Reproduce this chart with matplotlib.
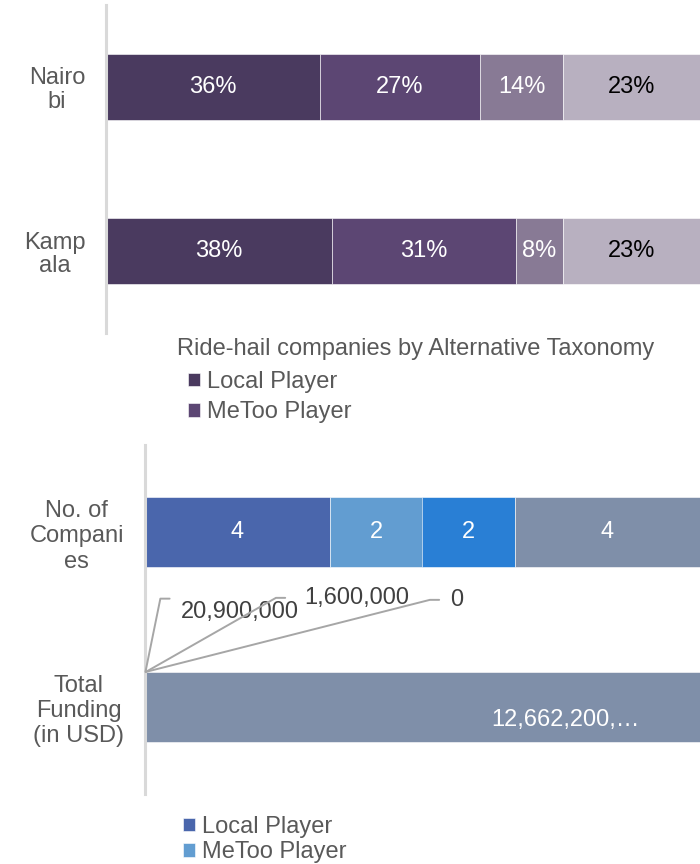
import matplotlib
matplotlib.use("Agg")
import matplotlib.pyplot as plt
import numpy as np

plt.rcParams['font.family'] = ['Liberation Sans', 'DejaVu Sans']

# --- Ride-hail share by city (percent) ---
cities = ["Nairo\nbi", "Kamp\nala"]
local_share = [36, 38]
metoo_share = [27, 31]
third_share = [14, 8]
fourth_share = [23, 23]
purple_colors = ["#4a3a5f", "#5c4673", "#887a95", "#b8b0c0"]
purple_text = ["white", "white", "white", "black"]
top_legend_title = "Ride-hail companies by Alternative Taxonomy"
legend_labels = ["Local Player", "MeToo Player"]

# --- Companies and funding ---
metrics = ["No. of\nCompani\nes", "Total\nFunding\n(in USD)"]
companies = [4, 2, 2, 4]
funding = [20900000, 1600000, 0, 12662200000]
blue_colors = ["#4a66ac", "#629dd1", "#297fd5", "#7f8fa9"]

FS = 17
GREY = "#595959"

fig = plt.figure(figsize=(7, 8.64), dpi=100)

def style_axis(ax, labels, spacing):
    ax.set_xlim(0, 100)
    ax.set_ylim(1.5, -0.5)
    ax.set_yticks([0, 1])
    ax.set_yticklabels(labels, fontsize=FS, color=GREY, multialignment="center",
                       linespacing=spacing)
    ax.tick_params(axis="y", length=0, pad=15)
    ax.set_xticks([])
    for s in ["top", "right", "bottom"]:
        ax.spines[s].set_visible(False)
    ax.spines["left"].set_color("#d9d9d9")
    ax.spines["left"].set_linewidth(2.2)

# Top chart
ax1 = fig.add_axes([106 / 700, 1 - 333 / 864, 594 / 700, 328 / 864])
series_top = np.array([local_share, metoo_share, third_share, fourth_share], dtype=float)
left = np.zeros(len(cities))
bars_top = []
for i, vals in enumerate(series_top):
    b = ax1.barh(range(len(cities)), vals, left=left, height=0.4,
                 color=purple_colors[i], edgecolor="white", linewidth=0.4)
    bars_top.append(b)
    for j, v in enumerate(vals):
        ax1.text(left[j] + v / 2, j, f"{v:.0f}%", ha="center", va="center",
                 fontsize=FS, color=purple_text[i])
    left += vals
style_axis(ax1, cities, 1.08)

fig.text(416 / 700, 1 - 349 / 864, top_legend_title, ha="center", va="center",
         fontsize=FS, color=GREY)
fig.legend([bars_top[0], bars_top[1]], legend_labels,
           loc="upper left", bbox_to_anchor=(176 / 700, 1 - 359 / 864),
           frameon=False, fontsize=FS, labelcolor=GREY,
           handlelength=0.5, handleheight=0.5, handletextpad=0.3,
           labelspacing=0.36, borderpad=0.0)

# Bottom chart
ax2 = fig.add_axes([145 / 700, 1 - 794 / 864, 555 / 700, 349 / 864])
raw = np.array([companies, funding], dtype=float)  # rows: metric, cols: series
pct = raw / raw.sum(axis=1, keepdims=True) * 100
left = np.zeros(len(metrics))
bars_bot = []
for i in range(raw.shape[1]):
    vals = pct[:, i]
    b = ax2.barh(range(len(metrics)), vals, left=left, height=0.4,
                 color=blue_colors[i], edgecolor="white", linewidth=0.4)
    bars_bot.append(b)
    left += vals
style_axis(ax2, metrics, 1.2)

# Company counts inside the bar
start = 0.0
for i, v in enumerate(companies):
    w = pct[0, i]
    ax2.text(start + w / 2, 0, f"{v:d}", ha="center", va="center",
             fontsize=FS, color="white")
    start += w

# Funding labels: tiny segments get leader lines
# (dx, dy, vertical anchor on text, gap before text)
fund_offsets = [(35, 60, 1.1, 5.8), (158, 74, 0.5, 11.5), (304, 72, 0.5, 5.8)]
start = 0.0
for i, v in enumerate(funding):
    w = pct[1, i]
    if i < 3:
        dx, dy, ry, gap = fund_offsets[i]
        ax2.annotate(f"{v:,.0f}", xy=(start + w / 2, 0.8), xycoords="data",
                     xytext=(dx, dy), textcoords="offset pixels",
                     ha="left", va="center", fontsize=FS, color="#404040",
                     arrowprops=dict(arrowstyle="-", color="#a6a6a6", lw=1.4,
                                     shrinkA=gap, shrinkB=0, relpos=(0, ry),
                                     connectionstyle=f"arc,angleA=180,armA={gap / 0.72 + 12:.1f},armB=0,rad=0"))
    else:
        txt = f"{v:,.0f}"[:11] + "\u2026"
        ax2.annotate(txt, xy=(start + w, 1), xycoords="data",
                     xytext=(-60, -13), textcoords="offset pixels",
                     ha="right", va="center", fontsize=FS, color="white")
    start += w

fig.legend([bars_bot[0], bars_bot[1]], legend_labels,
           loc="upper left", bbox_to_anchor=(171 / 700, 1 - 804 / 864),
           frameon=False, fontsize=FS, labelcolor=GREY,
           handlelength=0.5, handleheight=0.5, handletextpad=0.3,
           labelspacing=0.15, borderpad=0.0)

fig.savefig("out.png", dpi=100)
